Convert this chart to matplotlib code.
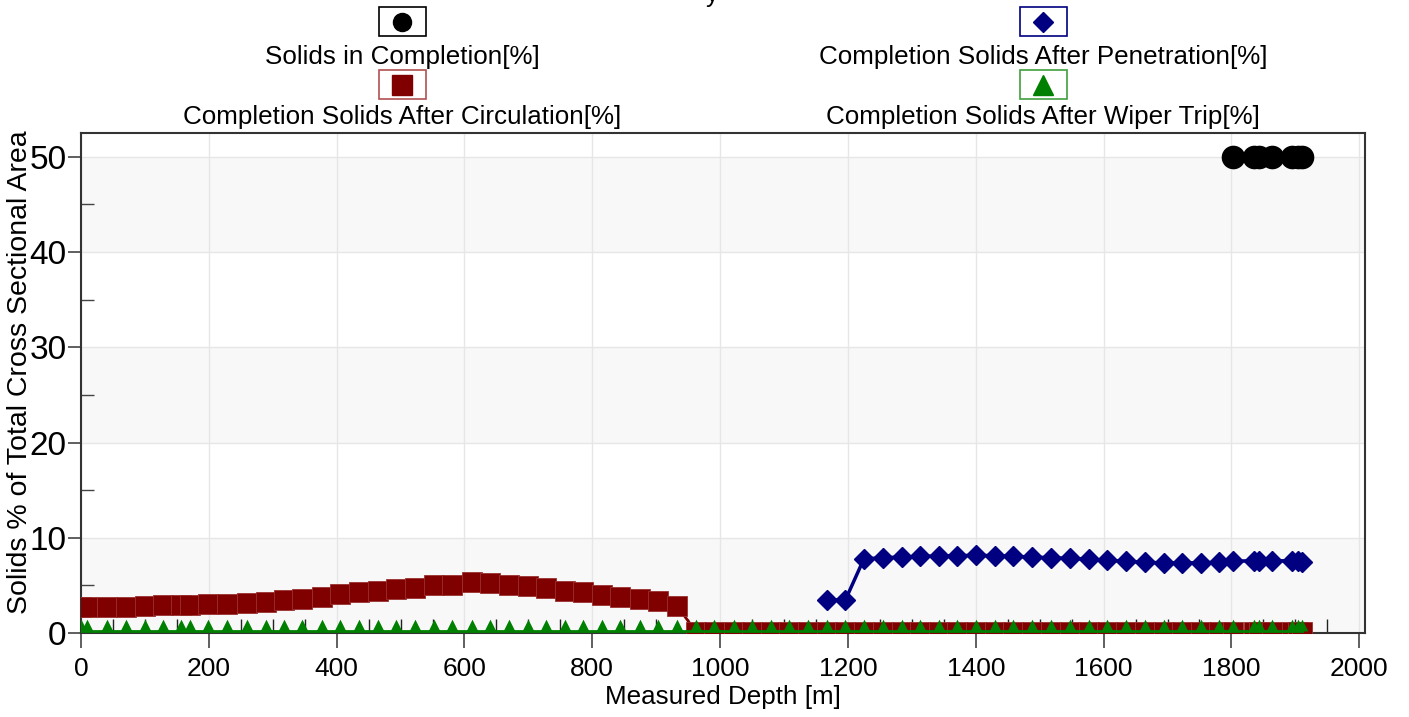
import numpy as np
import matplotlib
matplotlib.use("Agg")
import matplotlib.pyplot as plt
from matplotlib.lines import Line2D
from matplotlib.patches import Rectangle

plt.rcParams['font.family'] = ['Liberation Sans', 'DejaVu Sans']

# measured depths [m] of the sample points
depth = [0, 10, 41, 70, 100, 129, 157, 170, 199, 229, 259, 289, 317, 346, 377, 405,
         435, 464, 493, 523, 552, 580, 611, 640, 670, 699, 728, 757, 786, 815, 844,
         874, 903, 933, 962, 991, 1021, 1050, 1079, 1108, 1138, 1167, 1196, 1225,
         1255, 1284, 1313, 1342, 1371, 1400, 1430, 1459, 1488, 1518, 1547, 1577,
         1606, 1635, 1665, 1694, 1723, 1752, 1780, 1803, 1835, 1843, 1864, 1894,
         1904, 1911]

# completion solids after circulation [%]
circ = [2.75, 2.75, 2.75, 2.75, 2.8, 2.89, 2.96, 2.96, 3.0, 3.06, 3.17, 3.27, 3.45,
        3.62, 3.8, 4.11, 4.32, 4.46, 4.64, 4.74, 4.99, 5.09, 5.38, 5.27, 5.09, 4.92,
        4.74, 4.46, 4.29, 4.04, 3.83, 3.59, 3.34, 2.82] + [0.15] * 36

# completion solids after wiper trip [%]
wiper = [0.24] * len(depth)

# solids in completion [%]
comp_depth = [1803, 1835, 1843, 1864, 1894, 1904, 1911]
comp = [50, 50, 50, 50, 50, 50, 50]

# completion solids after penetration [%]
pen_depth = [1167, 1196, 1225, 1255, 1284, 1313, 1342, 1371, 1400, 1430, 1459, 1488,
             1518, 1547, 1577, 1606, 1635, 1665, 1694, 1723, 1752, 1780, 1803, 1835,
             1843, 1864, 1894, 1904, 1911]
pen = [3.47, 3.47, 7.79, 7.9, 7.98, 8.05, 8.09, 8.12, 8.16, 8.12, 8.05, 7.98, 7.9,
       7.84, 7.74, 7.63, 7.53, 7.42, 7.37, 7.37, 7.37, 7.42, 7.53, 7.6, 7.56, 7.56,
       7.6, 7.53, 7.49]

names = ["Solids in Completion[%]", "Completion Solids After Penetration[%]",
         "Completion Solids After Circulation[%]", "Completion Solids After Wiper Trip[%]"]

tri_up = [(0, 1), (-0.5, 0), (0.5, 0)]  # triangle sitting on the point

fig = plt.figure(figsize=(14.09, 7.17), dpi=100)
ax = fig.add_axes([81/1409, 84/717, 1284/1409, 500/717])

for lo in range(0, 50, 20):
    ax.axhspan(lo, lo + 10, color='#f8f8f8', zorder=0, lw=0)
ax.grid(True, color='#e6e6e6', lw=1, zorder=0.5)
ax.set_axisbelow(True)

ax.plot(comp_depth, comp, 'o-', color='black', ms=16, lw=2, zorder=3)
ax.plot(pen_depth, pen, 'D-', color='#000080', ms=10.5, lw=2.5, zorder=3)
ax.plot(depth, circ, 's-', color='#800000', ms=15, lw=2, mec='#9a3030', mew=0.6, zorder=3)
ax.plot(depth, wiper, '-', marker=tri_up, color='#008000', ms=17, lw=2, mew=0, zorder=4)

ax.set_xlim(0, 2009)
ax.set_ylim(0, 52.5)
ax.set_xticks(range(0, 2001, 200))
ax.set_xticks(range(0, 2001, 50), minor=True)
ax.set_yticks(range(0, 51, 10))
ax.set_yticks(range(5, 51, 10), minor=True)
ax.tick_params(axis='x', which='major', direction='out', length=11, width=1.2,
               color='#444444', labelsize=19, pad=6)
ax.tick_params(axis='x', which='minor', direction='in', length=10, width=1, color='#222222')
ax.tick_params(axis='y', which='major', direction='out', length=9.5, width=1.2,
               color='#444444', labelsize=24, pad=1)
ax.tick_params(axis='y', which='minor', direction='in', length=9, width=1, color='#444444')
ax.grid(False, which='minor')
for s in ax.spines.values():
    s.set_color('#333333')
    s.set_linewidth(1.5)

ax.set_xlabel("Measured Depth [m]", fontsize=18.7)
ax.set_ylabel("Solids % of Total Cross Sectional Area", fontsize=20.5)
ax.xaxis.set_label_coords(0.5, -0.128)
ax.yaxis.set_label_coords(-0.0475, 0.522)
ax.xaxis.label.set_va('center')
ax.yaxis.label.set_va('center')

# legend: marker box above each label, two columns
W, H = 1409, 717
leg = [
    (402, 22, 57, 'o', 'black', 'black', 13),
    (1043, 22, 57, 'D', '#000080', '#000080', 10),
    (402, 85, 117, 's', '#800000', '#b05050', 14),
    (1043, 85, 117, '^', '#008000', '#40a040', 15),
]
for (cx, by, ty, m, c, ec, ms), name in zip(leg, names):
    fig.add_artist(Rectangle(((cx - 23) / W, 1 - (by + 14) / H), 47 / W, 29 / H,
                             transform=fig.transFigure, fill=False, ec=ec, lw=1.2))
    fig.add_artist(Line2D([cx / W], [1 - by / H], marker=m, color=c, ms=ms, ls='none',
                          transform=fig.transFigure))
    fig.text(cx / W, 1 - ty / H, name, ha='center', va='center', fontsize=18.7)

# cut-off chart title at the very top
fig.text(712 / W, 1 - 2 / H, "y", ha='center', va='baseline', fontsize=18)

fig.savefig("out.png", dpi=100)
